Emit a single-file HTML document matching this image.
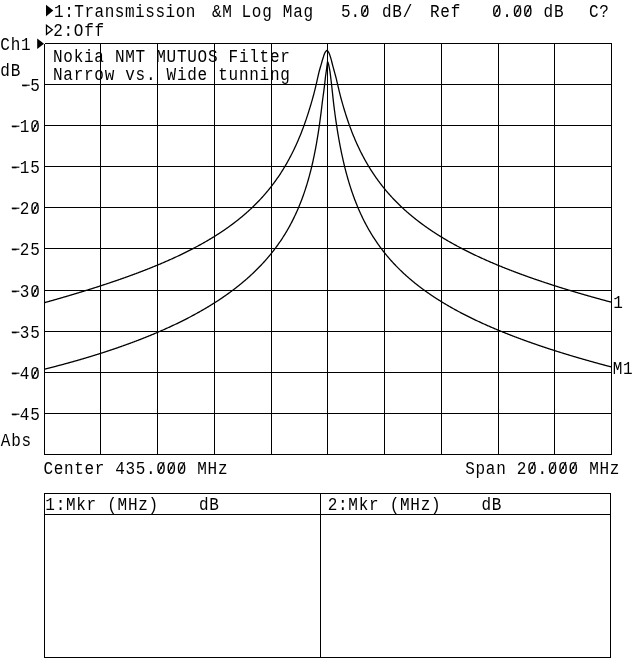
<!DOCTYPE html>
<html><head><meta charset="utf-8"><title>Transmission Log Mag</title>
<style>html,body{margin:0;padding:0;background:#fff}svg{display:block}</style></head>
<body>
<svg width="640" height="659" viewBox="0 0 640 659">
<rect width="640" height="659" fill="#fff"/>
<g stroke="#000" stroke-width="1" fill="none" shape-rendering="crispEdges">
<line x1="44.50" y1="43.5" x2="44.50" y2="454.5"/>
<line x1="100.50" y1="43.5" x2="100.50" y2="454.5"/>
<line x1="157.50" y1="43.5" x2="157.50" y2="454.5"/>
<line x1="214.50" y1="43.5" x2="214.50" y2="454.5"/>
<line x1="271.50" y1="43.5" x2="271.50" y2="454.5"/>
<line x1="327.50" y1="43.5" x2="327.50" y2="454.5"/>
<line x1="384.50" y1="43.5" x2="384.50" y2="454.5"/>
<line x1="441.50" y1="43.5" x2="441.50" y2="454.5"/>
<line x1="498.50" y1="43.5" x2="498.50" y2="454.5"/>
<line x1="554.50" y1="43.5" x2="554.50" y2="454.5"/>
<line x1="611.50" y1="43.5" x2="611.50" y2="454.5"/>
<line x1="44.5" y1="43.50" x2="611.5" y2="43.50"/>
<line x1="44.5" y1="84.50" x2="611.5" y2="84.50"/>
<line x1="44.5" y1="125.50" x2="611.5" y2="125.50"/>
<line x1="44.5" y1="166.50" x2="611.5" y2="166.50"/>
<line x1="44.5" y1="207.50" x2="611.5" y2="207.50"/>
<line x1="44.5" y1="248.50" x2="611.5" y2="248.50"/>
<line x1="44.5" y1="290.50" x2="611.5" y2="290.50"/>
<line x1="44.5" y1="331.50" x2="611.5" y2="331.50"/>
<line x1="44.5" y1="372.50" x2="611.5" y2="372.50"/>
<line x1="44.5" y1="413.50" x2="611.5" y2="413.50"/>
<line x1="44.5" y1="454.50" x2="611.5" y2="454.50"/>
<rect x="44.5" y="493.5" width="566" height="164"/>
<line x1="44.5" y1="514.5" x2="610.5" y2="514.5"/>
<line x1="320.5" y1="493.5" x2="320.5" y2="657.5"/>
</g>
<g stroke="#000" stroke-width="1.3" fill="none" stroke-linejoin="round">
<path d="M44.50,302.64 L45.00,302.50 L45.50,302.36 L46.00,302.22 L46.50,302.08 L47.00,301.94 L47.50,301.80 L48.00,301.66 L48.50,301.53 L49.00,301.39 L49.50,301.25 L50.00,301.11 L50.50,300.96 L51.00,300.82 L51.50,300.68 L52.00,300.54 L52.50,300.40 L53.00,300.26 L53.50,300.12 L54.00,299.98 L54.50,299.83 L55.00,299.69 L55.50,299.55 L56.00,299.41 L56.50,299.26 L57.00,299.12 L57.50,298.98 L58.00,298.83 L58.50,298.69 L59.00,298.55 L59.50,298.40 L60.00,298.26 L60.50,298.11 L61.00,297.97 L61.50,297.82 L62.00,297.68 L62.50,297.53 L63.00,297.39 L63.50,297.24 L64.00,297.10 L64.50,296.95 L65.00,296.80 L65.50,296.66 L66.00,296.51 L66.50,296.36 L67.00,296.22 L67.50,296.07 L68.00,295.92 L68.50,295.77 L69.00,295.63 L69.50,295.48 L70.00,295.33 L70.50,295.18 L71.00,295.03 L71.50,294.88 L72.00,294.73 L72.50,294.59 L73.00,294.44 L73.50,294.29 L74.00,294.14 L74.50,293.99 L75.00,293.84 L75.50,293.69 L76.00,293.54 L76.50,293.39 L77.00,293.23 L77.50,293.08 L78.00,292.93 L78.50,292.78 L79.00,292.63 L79.50,292.48 L80.00,292.33 L80.50,292.17 L81.00,292.02 L81.50,291.87 L82.00,291.72 L82.50,291.56 L83.00,291.41 L83.50,291.26 L84.00,291.10 L84.50,290.95 L85.00,290.79 L85.50,290.64 L86.00,290.48 L86.50,290.33 L87.00,290.17 L87.50,290.02 L88.00,289.86 L88.50,289.71 L89.00,289.55 L89.50,289.40 L90.00,289.24 L90.50,289.08 L91.00,288.92 L91.50,288.77 L92.00,288.61 L92.50,288.45 L93.00,288.29 L93.50,288.13 L94.00,287.98 L94.50,287.82 L95.00,287.66 L95.50,287.50 L96.00,287.34 L96.50,287.18 L97.00,287.02 L97.50,286.86 L98.00,286.70 L98.50,286.53 L99.00,286.37 L99.50,286.21 L100.00,286.05 L100.50,285.89 L101.00,285.72 L101.50,285.56 L102.00,285.40 L102.50,285.23 L103.00,285.07 L103.50,284.91 L104.00,284.74 L104.50,284.58 L105.00,284.41 L105.50,284.25 L106.00,284.08 L106.50,283.92 L107.00,283.75 L107.50,283.58 L108.00,283.42 L108.50,283.25 L109.00,283.08 L109.50,282.92 L110.00,282.75 L110.50,282.58 L111.00,282.41 L111.50,282.24 L112.00,282.07 L112.50,281.91 L113.00,281.74 L113.50,281.57 L114.00,281.40 L114.50,281.22 L115.00,281.05 L115.50,280.88 L116.00,280.71 L116.50,280.54 L117.00,280.37 L117.50,280.19 L118.00,280.02 L118.50,279.85 L119.00,279.67 L119.50,279.50 L120.00,279.32 L120.50,279.15 L121.00,278.97 L121.50,278.80 L122.00,278.62 L122.50,278.45 L123.00,278.27 L123.50,278.09 L124.00,277.92 L124.50,277.74 L125.00,277.56 L125.50,277.38 L126.00,277.20 L126.50,277.02 L127.00,276.85 L127.50,276.67 L128.00,276.49 L128.50,276.30 L129.00,276.12 L129.50,275.94 L130.00,275.76 L130.50,275.58 L131.00,275.40 L131.50,275.21 L132.00,275.03 L132.50,274.85 L133.00,274.66 L133.50,274.48 L134.00,274.29 L134.50,274.11 L135.00,273.92 L135.50,273.74 L136.00,273.55 L136.50,273.36 L137.00,273.17 L137.50,272.99 L138.00,272.80 L138.50,272.61 L139.00,272.42 L139.50,272.23 L140.00,272.04 L140.50,271.85 L141.00,271.66 L141.50,271.47 L142.00,271.28 L142.50,271.08 L143.00,270.89 L143.50,270.70 L144.00,270.50 L144.50,270.31 L145.00,270.11 L145.50,269.92 L146.00,269.72 L146.50,269.53 L147.00,269.33 L147.50,269.13 L148.00,268.94 L148.50,268.74 L149.00,268.54 L149.50,268.34 L150.00,268.14 L150.50,267.94 L151.00,267.74 L151.50,267.54 L152.00,267.34 L152.50,267.13 L153.00,266.93 L153.50,266.73 L154.00,266.52 L154.50,266.32 L155.00,266.12 L155.50,265.91 L156.00,265.70 L156.50,265.50 L157.00,265.29 L157.50,265.08 L158.00,264.88 L158.50,264.67 L159.00,264.46 L159.50,264.25 L160.00,264.04 L160.50,263.83 L161.00,263.61 L161.50,263.40 L162.00,263.19 L162.50,262.98 L163.00,262.76 L163.50,262.55 L164.00,262.33 L164.50,262.12 L165.00,261.90 L165.50,261.68 L166.00,261.46 L166.50,261.25 L167.00,261.03 L167.50,260.81 L168.00,260.59 L168.50,260.37 L169.00,260.14 L169.50,259.92 L170.00,259.70 L170.50,259.47 L171.00,259.25 L171.50,259.03 L172.00,258.80 L172.50,258.57 L173.00,258.35 L173.50,258.12 L174.00,257.89 L174.50,257.66 L175.00,257.43 L175.50,257.20 L176.00,256.97 L176.50,256.74 L177.00,256.50 L177.50,256.27 L178.00,256.03 L178.50,255.80 L179.00,255.56 L179.50,255.33 L180.00,255.09 L180.50,254.85 L181.00,254.61 L181.50,254.37 L182.00,254.13 L182.50,253.89 L183.00,253.65 L183.50,253.40 L184.00,253.16 L184.50,252.92 L185.00,252.67 L185.50,252.42 L186.00,252.18 L186.50,251.93 L187.00,251.68 L187.50,251.43 L188.00,251.18 L188.50,250.93 L189.00,250.67 L189.50,250.42 L190.00,250.16 L190.50,249.91 L191.00,249.65 L191.50,249.40 L192.00,249.14 L192.50,248.88 L193.00,248.62 L193.50,248.36 L194.00,248.09 L194.50,247.83 L195.00,247.57 L195.50,247.30 L196.00,247.04 L196.50,246.77 L197.00,246.50 L197.50,246.23 L198.00,245.96 L198.50,245.69 L199.00,245.42 L199.50,245.14 L200.00,244.87 L200.50,244.59 L201.00,244.32 L201.50,244.04 L202.00,243.76 L202.50,243.48 L203.00,243.20 L203.50,242.92 L204.00,242.63 L204.50,242.35 L205.00,242.06 L205.50,241.77 L206.00,241.49 L206.50,241.20 L207.00,240.91 L207.50,240.61 L208.00,240.32 L208.50,240.03 L209.00,239.73 L209.50,239.43 L210.00,239.13 L210.50,238.83 L211.00,238.53 L211.50,238.23 L212.00,237.93 L212.50,237.62 L213.00,237.32 L213.50,237.01 L214.00,236.70 L214.50,236.39 L215.00,236.08 L215.50,235.76 L216.00,235.45 L216.50,235.13 L217.00,234.81 L217.50,234.49 L218.00,234.17 L218.50,233.85 L219.00,233.52 L219.50,233.20 L220.00,232.87 L220.50,232.54 L221.00,232.21 L221.50,231.88 L222.00,231.55 L222.50,231.21 L223.00,230.87 L223.50,230.54 L224.00,230.20 L224.50,229.85 L225.00,229.51 L225.50,229.16 L226.00,228.82 L226.50,228.47 L227.00,228.12 L227.50,227.76 L228.00,227.41 L228.50,227.05 L229.00,226.69 L229.50,226.33 L230.00,225.97 L230.50,225.60 L231.00,225.24 L231.50,224.87 L232.00,224.50 L232.50,224.13 L233.00,223.75 L233.50,223.38 L234.00,223.00 L234.50,222.62 L235.00,222.24 L235.50,221.85 L236.00,221.46 L236.50,221.07 L237.00,220.68 L237.50,220.29 L238.00,219.89 L238.50,219.49 L239.00,219.09 L239.50,218.69 L240.00,218.28 L240.50,217.87 L241.00,217.46 L241.50,217.05 L242.00,216.63 L242.50,216.21 L243.00,215.79 L243.50,215.37 L244.00,214.94 L244.50,214.51 L245.00,214.08 L245.50,213.65 L246.00,213.21 L246.50,212.77 L247.00,212.33 L247.50,211.88 L248.00,211.43 L248.50,210.98 L249.00,210.52 L249.50,210.07 L250.00,209.60 L250.50,209.14 L251.00,208.67 L251.50,208.20 L252.00,207.73 L252.50,207.25 L253.00,206.77 L253.50,206.29 L254.00,205.80 L254.50,205.31 L255.00,204.82 L255.50,204.32 L256.00,203.82 L256.50,203.31 L257.00,202.80 L257.50,202.29 L258.00,201.77 L258.50,201.25 L259.00,200.73 L259.50,200.20 L260.00,199.67 L260.50,199.13 L261.00,198.59 L261.50,198.05 L262.00,197.50 L262.50,196.95 L263.00,196.39 L263.50,195.83 L264.00,195.26 L264.50,194.69 L265.00,194.12 L265.50,193.53 L266.00,192.95 L266.50,192.36 L267.00,191.76 L267.50,191.16 L268.00,190.56 L268.50,189.95 L269.00,189.34 L269.50,188.72 L270.00,188.09 L270.50,187.46 L271.00,186.82 L271.50,186.18 L272.00,185.53 L272.50,184.87 L273.00,184.21 L273.50,183.54 L274.00,182.87 L274.50,182.19 L275.00,181.51 L275.50,180.82 L276.00,180.12 L276.50,179.41 L277.00,178.70 L277.50,177.98 L278.00,177.26 L278.50,176.52 L279.00,175.78 L279.50,175.04 L280.00,174.28 L280.50,173.52 L281.00,172.75 L281.50,171.97 L282.00,171.18 L282.50,170.39 L283.00,169.58 L283.50,168.77 L284.00,167.95 L284.50,167.12 L285.00,166.28 L285.50,165.44 L286.00,164.58 L286.50,163.71 L287.00,162.84 L287.50,161.95 L288.00,161.05 L288.50,160.15 L289.00,159.23 L289.50,158.30 L290.00,157.36 L290.50,156.41 L291.00,155.45 L291.50,154.48 L292.00,153.49 L292.50,152.49 L293.00,151.48 L293.50,150.46 L294.00,149.43 L294.50,148.38 L295.00,147.32 L295.50,146.24 L296.00,145.15 L296.50,144.04 L297.00,142.92 L297.50,141.79 L298.00,140.64 L298.50,139.48 L299.00,138.29 L299.50,137.10 L300.00,135.88 L300.50,134.65 L301.00,133.40 L301.50,132.14 L302.00,130.85 L302.50,129.54 L303.00,128.22 L303.50,126.88 L304.00,125.52 L304.50,124.13 L305.00,122.73 L305.50,121.30 L306.00,119.85 L306.50,118.38 L307.00,116.89 L307.50,115.37 L308.00,113.83 L308.50,112.27 L309.00,110.68 L309.50,109.06 L310.00,107.42 L310.50,105.75 L311.00,104.06 L311.50,102.34 L312.00,100.59 L312.50,98.82 L313.00,97.04 L313.50,95.21 L314.00,93.32 L314.50,91.36 L315.00,89.36 L315.50,87.30 L316.00,85.20 L316.50,83.07 L317.00,80.83 L317.50,78.57 L318.00,76.39 L318.50,74.24 L319.00,72.17 L319.50,70.25 L320.00,68.48 L320.50,66.79 L321.00,65.10 L321.50,63.33 L322.00,61.53 L322.50,59.79 L323.00,58.19 L323.50,56.61 L324.00,55.06 L324.50,53.68 L325.00,52.58 L325.50,51.82 L326.00,51.17 L326.50,50.68 L327.00,50.40 L327.00,50.40 L327.00,50.40 L327.50,50.78 L328.00,51.37 L328.50,52.09 L329.00,53.00 L329.50,54.21 L330.00,55.64 L330.50,57.21 L331.00,58.83 L331.50,60.70 L332.00,62.75 L332.50,64.75 L333.00,66.62 L333.50,68.45 L334.00,70.27 L334.50,72.09 L335.00,73.89 L335.50,75.72 L336.00,77.64 L336.50,79.69 L337.00,81.81 L337.50,83.92 L338.00,86.05 L338.50,88.21 L339.00,90.35 L339.50,92.45 L340.00,94.46 L340.50,96.38 L341.00,98.23 L341.50,100.06 L342.00,101.87 L342.50,103.65 L343.00,105.39 L343.50,107.10 L344.00,108.79 L344.50,110.44 L345.00,112.06 L345.50,113.66 L346.00,115.23 L346.50,116.77 L347.00,118.29 L347.50,119.78 L348.00,121.24 L348.50,122.69 L349.00,124.11 L349.50,125.50 L350.00,126.87 L350.50,128.22 L351.00,129.55 L351.50,130.86 L352.00,132.15 L352.50,133.42 L353.00,134.67 L353.50,135.90 L354.00,137.12 L354.50,138.31 L355.00,139.49 L355.50,140.65 L356.00,141.80 L356.50,142.93 L357.00,144.04 L357.50,145.14 L358.00,146.22 L358.50,147.29 L359.00,148.34 L359.50,149.38 L360.00,150.41 L360.50,151.42 L361.00,152.42 L361.50,153.41 L362.00,154.38 L362.50,155.35 L363.00,156.30 L363.50,157.24 L364.00,158.17 L364.50,159.08 L365.00,159.99 L365.50,160.88 L366.00,161.77 L366.50,162.64 L367.00,163.51 L367.50,164.36 L368.00,165.21 L368.50,166.04 L369.00,166.87 L369.50,167.69 L370.00,168.50 L370.50,169.30 L371.00,170.09 L371.50,170.87 L372.00,171.65 L372.50,172.42 L373.00,173.18 L373.50,173.93 L374.00,174.67 L374.50,175.41 L375.00,176.14 L375.50,176.86 L376.00,177.57 L376.50,178.28 L377.00,178.98 L377.50,179.68 L378.00,180.37 L378.50,181.05 L379.00,181.72 L379.50,182.39 L380.00,183.06 L380.50,183.71 L381.00,184.36 L381.50,185.01 L382.00,185.65 L382.50,186.28 L383.00,186.91 L383.50,187.53 L384.00,188.15 L384.50,188.76 L385.00,189.37 L385.50,189.97 L386.00,190.57 L386.50,191.16 L387.00,191.75 L387.50,192.33 L388.00,192.91 L388.50,193.48 L389.00,194.05 L389.50,194.61 L390.00,195.17 L390.50,195.72 L391.00,196.28 L391.50,196.82 L392.00,197.37 L392.50,197.90 L393.00,198.44 L393.50,198.97 L394.00,199.49 L394.50,200.02 L395.00,200.53 L395.50,201.05 L396.00,201.56 L396.50,202.07 L397.00,202.57 L397.50,203.07 L398.00,203.56 L398.50,204.06 L399.00,204.55 L399.50,205.03 L400.00,205.52 L400.50,206.00 L401.00,206.47 L401.50,206.95 L402.00,207.42 L402.50,207.88 L403.00,208.35 L403.50,208.81 L404.00,209.26 L404.50,209.72 L405.00,210.17 L405.50,210.62 L406.00,211.06 L406.50,211.51 L407.00,211.95 L407.50,212.38 L408.00,212.82 L408.50,213.25 L409.00,213.68 L409.50,214.11 L410.00,214.53 L410.50,214.95 L411.00,215.37 L411.50,215.79 L412.00,216.20 L412.50,216.61 L413.00,217.02 L413.50,217.43 L414.00,217.83 L414.50,218.23 L415.00,218.63 L415.50,219.03 L416.00,219.42 L416.50,219.82 L417.00,220.21 L417.50,220.60 L418.00,220.98 L418.50,221.37 L419.00,221.75 L419.50,222.13 L420.00,222.51 L420.50,222.88 L421.00,223.26 L421.50,223.63 L422.00,224.00 L422.50,224.37 L423.00,224.73 L423.50,225.10 L424.00,225.46 L424.50,225.82 L425.00,226.18 L425.50,226.53 L426.00,226.89 L426.50,227.24 L427.00,227.59 L427.50,227.94 L428.00,228.29 L428.50,228.64 L429.00,228.98 L429.50,229.32 L430.00,229.66 L430.50,230.00 L431.00,230.34 L431.50,230.68 L432.00,231.01 L432.50,231.34 L433.00,231.67 L433.50,232.00 L434.00,232.33 L434.50,232.66 L435.00,232.98 L435.50,233.30 L436.00,233.63 L436.50,233.95 L437.00,234.27 L437.50,234.58 L438.00,234.90 L438.50,235.21 L439.00,235.53 L439.50,235.84 L440.00,236.15 L440.50,236.46 L441.00,236.77 L441.50,237.07 L442.00,237.38 L442.50,237.68 L443.00,237.98 L443.50,238.29 L444.00,238.59 L444.50,238.88 L445.00,239.18 L445.50,239.48 L446.00,239.77 L446.50,240.07 L447.00,240.36 L447.50,240.65 L448.00,240.94 L448.50,241.23 L449.00,241.51 L449.50,241.80 L450.00,242.09 L450.50,242.37 L451.00,242.65 L451.50,242.93 L452.00,243.21 L452.50,243.49 L453.00,243.77 L453.50,244.05 L454.00,244.33 L454.50,244.60 L455.00,244.88 L455.50,245.15 L456.00,245.42 L456.50,245.69 L457.00,245.96 L457.50,246.23 L458.00,246.50 L458.50,246.77 L459.00,247.03 L459.50,247.30 L460.00,247.56 L460.50,247.82 L461.00,248.09 L461.50,248.35 L462.00,248.61 L462.50,248.87 L463.00,249.12 L463.50,249.38 L464.00,249.64 L464.50,249.89 L465.00,250.15 L465.50,250.40 L466.00,250.65 L466.50,250.91 L467.00,251.16 L467.50,251.41 L468.00,251.66 L468.50,251.90 L469.00,252.15 L469.50,252.40 L470.00,252.64 L470.50,252.89 L471.00,253.13 L471.50,253.38 L472.00,253.62 L472.50,253.86 L473.00,254.10 L473.50,254.34 L474.00,254.58 L474.50,254.82 L475.00,255.06 L475.50,255.30 L476.00,255.53 L476.50,255.77 L477.00,256.00 L477.50,256.23 L478.00,256.47 L478.50,256.70 L479.00,256.93 L479.50,257.16 L480.00,257.39 L480.50,257.62 L481.00,257.85 L481.50,258.08 L482.00,258.31 L482.50,258.53 L483.00,258.76 L483.50,258.98 L484.00,259.21 L484.50,259.43 L485.00,259.66 L485.50,259.88 L486.00,260.10 L486.50,260.32 L487.00,260.54 L487.50,260.76 L488.00,260.98 L488.50,261.20 L489.00,261.42 L489.50,261.64 L490.00,261.85 L490.50,262.07 L491.00,262.28 L491.50,262.50 L492.00,262.71 L492.50,262.93 L493.00,263.14 L493.50,263.35 L494.00,263.56 L494.50,263.78 L495.00,263.99 L495.50,264.20 L496.00,264.41 L496.50,264.61 L497.00,264.82 L497.50,265.03 L498.00,265.24 L498.50,265.44 L499.00,265.65 L499.50,265.85 L500.00,266.06 L500.50,266.26 L501.00,266.47 L501.50,266.67 L502.00,266.87 L502.50,267.08 L503.00,267.28 L503.50,267.48 L504.00,267.68 L504.50,267.88 L505.00,268.08 L505.50,268.28 L506.00,268.48 L506.50,268.67 L507.00,268.87 L507.50,269.07 L508.00,269.26 L508.50,269.46 L509.00,269.66 L509.50,269.85 L510.00,270.05 L510.50,270.24 L511.00,270.43 L511.50,270.63 L512.00,270.82 L512.50,271.01 L513.00,271.20 L513.50,271.39 L514.00,271.58 L514.50,271.77 L515.00,271.96 L515.50,272.15 L516.00,272.34 L516.50,272.53 L517.00,272.72 L517.50,272.90 L518.00,273.09 L518.50,273.28 L519.00,273.46 L519.50,273.65 L520.00,273.83 L520.50,274.02 L521.00,274.20 L521.50,274.39 L522.00,274.57 L522.50,274.75 L523.00,274.94 L523.50,275.12 L524.00,275.30 L524.50,275.48 L525.00,275.66 L525.50,275.84 L526.00,276.02 L526.50,276.20 L527.00,276.38 L527.50,276.56 L528.00,276.74 L528.50,276.92 L529.00,277.09 L529.50,277.27 L530.00,277.45 L530.50,277.62 L531.00,277.80 L531.50,277.98 L532.00,278.15 L532.50,278.33 L533.00,278.50 L533.50,278.68 L534.00,278.85 L534.50,279.02 L535.00,279.20 L535.50,279.37 L536.00,279.54 L536.50,279.71 L537.00,279.88 L537.50,280.06 L538.00,280.23 L538.50,280.40 L539.00,280.57 L539.50,280.74 L540.00,280.91 L540.50,281.08 L541.00,281.24 L541.50,281.41 L542.00,281.58 L542.50,281.75 L543.00,281.92 L543.50,282.08 L544.00,282.25 L544.50,282.42 L545.00,282.58 L545.50,282.75 L546.00,282.91 L546.50,283.08 L547.00,283.24 L547.50,283.41 L548.00,283.57 L548.50,283.73 L549.00,283.90 L549.50,284.06 L550.00,284.22 L550.50,284.39 L551.00,284.55 L551.50,284.71 L552.00,284.87 L552.50,285.03 L553.00,285.19 L553.50,285.35 L554.00,285.51 L554.50,285.67 L555.00,285.83 L555.50,285.99 L556.00,286.15 L556.50,286.31 L557.00,286.47 L557.50,286.63 L558.00,286.79 L558.50,286.94 L559.00,287.10 L559.50,287.26 L560.00,287.41 L560.50,287.57 L561.00,287.73 L561.50,287.88 L562.00,288.04 L562.50,288.19 L563.00,288.35 L563.50,288.50 L564.00,288.66 L564.50,288.81 L565.00,288.97 L565.50,289.12 L566.00,289.27 L566.50,289.43 L567.00,289.58 L567.50,289.73 L568.00,289.88 L568.50,290.03 L569.00,290.19 L569.50,290.34 L570.00,290.49 L570.50,290.64 L571.00,290.79 L571.50,290.94 L572.00,291.09 L572.50,291.24 L573.00,291.39 L573.50,291.54 L574.00,291.69 L574.50,291.83 L575.00,291.98 L575.50,292.13 L576.00,292.28 L576.50,292.43 L577.00,292.57 L577.50,292.72 L578.00,292.87 L578.50,293.02 L579.00,293.16 L579.50,293.31 L580.00,293.45 L580.50,293.60 L581.00,293.75 L581.50,293.89 L582.00,294.04 L582.50,294.18 L583.00,294.33 L583.50,294.47 L584.00,294.61 L584.50,294.76 L585.00,294.90 L585.50,295.05 L586.00,295.19 L586.50,295.33 L587.00,295.48 L587.50,295.62 L588.00,295.76 L588.50,295.91 L589.00,296.05 L589.50,296.19 L590.00,296.33 L590.50,296.47 L591.00,296.62 L591.50,296.76 L592.00,296.90 L592.50,297.04 L593.00,297.18 L593.50,297.32 L594.00,297.46 L594.50,297.60 L595.00,297.74 L595.50,297.88 L596.00,298.02 L596.50,298.16 L597.00,298.30 L597.50,298.44 L598.00,298.58 L598.50,298.72 L599.00,298.85 L599.50,298.99 L600.00,299.13 L600.50,299.27 L601.00,299.40 L601.50,299.54 L602.00,299.68 L602.50,299.81 L603.00,299.95 L603.50,300.08 L604.00,300.22 L604.50,300.35 L605.00,300.49 L605.50,300.62 L606.00,300.76 L606.50,300.89 L607.00,301.03 L607.50,301.16 L608.00,301.30 L608.50,301.43 L609.00,301.56 L609.50,301.70 L610.00,301.83 L610.50,301.96 L611.00,302.09 L611.50,302.23"/>
<path d="M44.50,369.23 L45.00,369.11 L45.50,368.98 L46.00,368.86 L46.50,368.73 L47.00,368.61 L47.50,368.48 L48.00,368.35 L48.50,368.22 L49.00,368.09 L49.50,367.96 L50.00,367.83 L50.50,367.70 L51.00,367.57 L51.50,367.44 L52.00,367.31 L52.50,367.18 L53.00,367.05 L53.50,366.91 L54.00,366.78 L54.50,366.65 L55.00,366.52 L55.50,366.39 L56.00,366.26 L56.50,366.13 L57.00,365.99 L57.50,365.86 L58.00,365.73 L58.50,365.60 L59.00,365.46 L59.50,365.33 L60.00,365.20 L60.50,365.06 L61.00,364.93 L61.50,364.79 L62.00,364.66 L62.50,364.53 L63.00,364.39 L63.50,364.26 L64.00,364.12 L64.50,363.99 L65.00,363.85 L65.50,363.71 L66.00,363.58 L66.50,363.44 L67.00,363.30 L67.50,363.17 L68.00,363.03 L68.50,362.89 L69.00,362.75 L69.50,362.62 L70.00,362.48 L70.50,362.34 L71.00,362.20 L71.50,362.06 L72.00,361.92 L72.50,361.78 L73.00,361.64 L73.50,361.50 L74.00,361.36 L74.50,361.22 L75.00,361.08 L75.50,360.93 L76.00,360.79 L76.50,360.65 L77.00,360.51 L77.50,360.36 L78.00,360.22 L78.50,360.08 L79.00,359.93 L79.50,359.79 L80.00,359.64 L80.50,359.50 L81.00,359.35 L81.50,359.20 L82.00,359.06 L82.50,358.91 L83.00,358.76 L83.50,358.62 L84.00,358.47 L84.50,358.32 L85.00,358.17 L85.50,358.02 L86.00,357.87 L86.50,357.72 L87.00,357.57 L87.50,357.42 L88.00,357.27 L88.50,357.12 L89.00,356.97 L89.50,356.82 L90.00,356.67 L90.50,356.51 L91.00,356.36 L91.50,356.21 L92.00,356.06 L92.50,355.90 L93.00,355.75 L93.50,355.59 L94.00,355.44 L94.50,355.28 L95.00,355.13 L95.50,354.97 L96.00,354.82 L96.50,354.66 L97.00,354.50 L97.50,354.35 L98.00,354.19 L98.50,354.03 L99.00,353.87 L99.50,353.71 L100.00,353.56 L100.50,353.40 L101.00,353.24 L101.50,353.08 L102.00,352.92 L102.50,352.76 L103.00,352.60 L103.50,352.43 L104.00,352.27 L104.50,352.11 L105.00,351.95 L105.50,351.79 L106.00,351.62 L106.50,351.46 L107.00,351.29 L107.50,351.13 L108.00,350.97 L108.50,350.80 L109.00,350.63 L109.50,350.47 L110.00,350.30 L110.50,350.14 L111.00,349.97 L111.50,349.80 L112.00,349.63 L112.50,349.46 L113.00,349.29 L113.50,349.13 L114.00,348.96 L114.50,348.79 L115.00,348.61 L115.50,348.44 L116.00,348.27 L116.50,348.10 L117.00,347.93 L117.50,347.76 L118.00,347.58 L118.50,347.41 L119.00,347.23 L119.50,347.06 L120.00,346.89 L120.50,346.71 L121.00,346.53 L121.50,346.36 L122.00,346.18 L122.50,346.00 L123.00,345.83 L123.50,345.65 L124.00,345.47 L124.50,345.29 L125.00,345.11 L125.50,344.93 L126.00,344.75 L126.50,344.57 L127.00,344.39 L127.50,344.21 L128.00,344.03 L128.50,343.85 L129.00,343.67 L129.50,343.48 L130.00,343.30 L130.50,343.11 L131.00,342.93 L131.50,342.74 L132.00,342.56 L132.50,342.37 L133.00,342.19 L133.50,342.00 L134.00,341.81 L134.50,341.62 L135.00,341.43 L135.50,341.25 L136.00,341.06 L136.50,340.87 L137.00,340.68 L137.50,340.48 L138.00,340.29 L138.50,340.10 L139.00,339.91 L139.50,339.71 L140.00,339.52 L140.50,339.33 L141.00,339.13 L141.50,338.94 L142.00,338.74 L142.50,338.54 L143.00,338.35 L143.50,338.15 L144.00,337.95 L144.50,337.75 L145.00,337.55 L145.50,337.35 L146.00,337.15 L146.50,336.95 L147.00,336.75 L147.50,336.55 L148.00,336.35 L148.50,336.15 L149.00,335.94 L149.50,335.74 L150.00,335.53 L150.50,335.33 L151.00,335.12 L151.50,334.92 L152.00,334.71 L152.50,334.50 L153.00,334.30 L153.50,334.09 L154.00,333.88 L154.50,333.67 L155.00,333.46 L155.50,333.25 L156.00,333.03 L156.50,332.82 L157.00,332.61 L157.50,332.40 L158.00,332.18 L158.50,331.97 L159.00,331.75 L159.50,331.53 L160.00,331.32 L160.50,331.10 L161.00,330.88 L161.50,330.66 L162.00,330.44 L162.50,330.22 L163.00,330.00 L163.50,329.78 L164.00,329.56 L164.50,329.34 L165.00,329.11 L165.50,328.89 L166.00,328.67 L166.50,328.44 L167.00,328.21 L167.50,327.99 L168.00,327.76 L168.50,327.53 L169.00,327.30 L169.50,327.08 L170.00,326.85 L170.50,326.62 L171.00,326.38 L171.50,326.15 L172.00,325.92 L172.50,325.68 L173.00,325.45 L173.50,325.21 L174.00,324.98 L174.50,324.74 L175.00,324.50 L175.50,324.27 L176.00,324.03 L176.50,323.79 L177.00,323.55 L177.50,323.30 L178.00,323.06 L178.50,322.82 L179.00,322.57 L179.50,322.33 L180.00,322.08 L180.50,321.84 L181.00,321.59 L181.50,321.34 L182.00,321.09 L182.50,320.84 L183.00,320.59 L183.50,320.34 L184.00,320.09 L184.50,319.84 L185.00,319.59 L185.50,319.33 L186.00,319.08 L186.50,318.82 L187.00,318.56 L187.50,318.30 L188.00,318.05 L188.50,317.79 L189.00,317.52 L189.50,317.26 L190.00,317.00 L190.50,316.74 L191.00,316.47 L191.50,316.21 L192.00,315.94 L192.50,315.67 L193.00,315.40 L193.50,315.13 L194.00,314.86 L194.50,314.59 L195.00,314.32 L195.50,314.05 L196.00,313.77 L196.50,313.50 L197.00,313.22 L197.50,312.94 L198.00,312.67 L198.50,312.39 L199.00,312.11 L199.50,311.82 L200.00,311.54 L200.50,311.26 L201.00,310.97 L201.50,310.69 L202.00,310.40 L202.50,310.12 L203.00,309.83 L203.50,309.54 L204.00,309.24 L204.50,308.95 L205.00,308.66 L205.50,308.36 L206.00,308.07 L206.50,307.77 L207.00,307.47 L207.50,307.17 L208.00,306.87 L208.50,306.57 L209.00,306.27 L209.50,305.96 L210.00,305.66 L210.50,305.35 L211.00,305.04 L211.50,304.73 L212.00,304.42 L212.50,304.11 L213.00,303.80 L213.50,303.48 L214.00,303.17 L214.50,302.85 L215.00,302.53 L215.50,302.21 L216.00,301.89 L216.50,301.57 L217.00,301.25 L217.50,300.92 L218.00,300.59 L218.50,300.27 L219.00,299.94 L219.50,299.61 L220.00,299.27 L220.50,298.94 L221.00,298.60 L221.50,298.27 L222.00,297.93 L222.50,297.59 L223.00,297.24 L223.50,296.90 L224.00,296.56 L224.50,296.21 L225.00,295.86 L225.50,295.51 L226.00,295.16 L226.50,294.81 L227.00,294.46 L227.50,294.10 L228.00,293.74 L228.50,293.38 L229.00,293.02 L229.50,292.66 L230.00,292.29 L230.50,291.93 L231.00,291.56 L231.50,291.19 L232.00,290.81 L232.50,290.44 L233.00,290.06 L233.50,289.69 L234.00,289.31 L234.50,288.92 L235.00,288.54 L235.50,288.15 L236.00,287.77 L236.50,287.38 L237.00,286.99 L237.50,286.59 L238.00,286.20 L238.50,285.80 L239.00,285.40 L239.50,285.00 L240.00,284.59 L240.50,284.18 L241.00,283.78 L241.50,283.36 L242.00,282.95 L242.50,282.53 L243.00,282.12 L243.50,281.70 L244.00,281.27 L244.50,280.85 L245.00,280.42 L245.50,279.99 L246.00,279.56 L246.50,279.12 L247.00,278.68 L247.50,278.24 L248.00,277.80 L248.50,277.35 L249.00,276.91 L249.50,276.45 L250.00,276.00 L250.50,275.54 L251.00,275.08 L251.50,274.62 L252.00,274.15 L252.50,273.69 L253.00,273.21 L253.50,272.74 L254.00,272.26 L254.50,271.78 L255.00,271.30 L255.50,270.81 L256.00,270.32 L256.50,269.83 L257.00,269.33 L257.50,268.83 L258.00,268.33 L258.50,267.82 L259.00,267.31 L259.50,266.79 L260.00,266.27 L260.50,265.75 L261.00,265.23 L261.50,264.70 L262.00,264.16 L262.50,263.63 L263.00,263.08 L263.50,262.54 L264.00,261.99 L264.50,261.44 L265.00,260.88 L265.50,260.32 L266.00,259.75 L266.50,259.18 L267.00,258.60 L267.50,258.02 L268.00,257.44 L268.50,256.85 L269.00,256.25 L269.50,255.65 L270.00,255.05 L270.50,254.44 L271.00,253.83 L271.50,253.21 L272.00,252.58 L272.50,251.95 L273.00,251.31 L273.50,250.67 L274.00,250.02 L274.50,249.37 L275.00,248.71 L275.50,248.04 L276.00,247.37 L276.50,246.69 L277.00,246.01 L277.50,245.32 L278.00,244.62 L278.50,243.91 L279.00,243.20 L279.50,242.48 L280.00,241.75 L280.50,241.02 L281.00,240.28 L281.50,239.53 L282.00,238.77 L282.50,238.00 L283.00,237.23 L283.50,236.45 L284.00,235.66 L284.50,234.86 L285.00,234.05 L285.50,233.23 L286.00,232.40 L286.50,231.56 L287.00,230.71 L287.50,229.85 L288.00,228.98 L288.50,228.10 L289.00,227.21 L289.50,226.31 L290.00,225.40 L290.50,224.47 L291.00,223.53 L291.50,222.58 L292.00,221.62 L292.50,220.64 L293.00,219.65 L293.50,218.64 L294.00,217.62 L294.50,216.59 L295.00,215.54 L295.50,214.47 L296.00,213.39 L296.50,212.29 L297.00,211.17 L297.50,210.04 L298.00,208.89 L298.50,207.71 L299.00,206.52 L299.50,205.31 L300.00,204.08 L300.50,202.82 L301.00,201.54 L301.50,200.24 L302.00,198.92 L302.50,197.56 L303.00,196.19 L303.50,194.78 L304.00,193.35 L304.50,191.88 L305.00,190.39 L305.50,188.87 L306.00,187.31 L306.50,185.71 L307.00,184.09 L307.50,182.42 L308.00,180.71 L308.50,178.96 L309.00,177.17 L309.50,175.34 L310.00,173.45 L310.50,171.52 L311.00,169.54 L311.50,167.50 L312.00,165.40 L312.50,163.24 L313.00,161.02 L313.50,158.73 L314.00,156.36 L314.50,153.93 L315.00,151.41 L315.50,148.81 L316.00,146.12 L316.50,143.34 L317.00,140.45 L317.50,137.46 L318.00,134.36 L318.50,131.14 L319.00,127.79 L319.50,124.32 L320.00,120.70 L320.50,116.95 L321.00,113.05 L321.50,109.00 L322.00,104.78 L322.50,100.75 L323.00,97.01 L323.50,93.39 L324.00,89.68 L324.50,85.70 L325.00,81.09 L325.50,76.47 L326.00,73.06 L326.50,69.51 L327.00,65.62 L327.50,61.50 L327.50,61.50 L328.00,62.44 L328.50,64.09 L329.00,66.27 L329.50,68.81 L330.00,71.61 L330.50,75.57 L331.00,79.73 L331.50,84.00 L332.00,88.48 L332.50,93.14 L333.00,97.83 L333.50,102.38 L334.00,106.66 L334.50,110.53 L335.00,114.23 L335.50,117.83 L336.00,121.30 L336.50,124.66 L337.00,127.90 L337.50,131.04 L338.00,134.07 L338.50,137.00 L339.00,139.84 L339.50,142.59 L340.00,145.26 L340.50,147.84 L341.00,150.35 L341.50,152.79 L342.00,155.16 L342.50,157.46 L343.00,159.70 L343.50,161.88 L344.00,164.00 L344.50,166.07 L345.00,168.09 L345.50,170.06 L346.00,171.97 L346.50,173.85 L347.00,175.68 L347.50,177.47 L348.00,179.22 L348.50,180.93 L349.00,182.60 L349.50,184.24 L350.00,185.84 L350.50,187.41 L351.00,188.95 L351.50,190.46 L352.00,191.94 L352.50,193.39 L353.00,194.81 L353.50,196.20 L354.00,197.57 L354.50,198.92 L355.00,200.24 L355.50,201.54 L356.00,202.82 L356.50,204.07 L357.00,205.31 L357.50,206.52 L358.00,207.72 L358.50,208.89 L359.00,210.05 L359.50,211.18 L360.00,212.30 L360.50,213.41 L361.00,214.49 L361.50,215.57 L362.00,216.62 L362.50,217.66 L363.00,218.69 L363.50,219.70 L364.00,220.69 L364.50,221.68 L365.00,222.65 L365.50,223.60 L366.00,224.55 L366.50,225.48 L367.00,226.40 L367.50,227.31 L368.00,228.20 L368.50,229.09 L369.00,229.96 L369.50,230.82 L370.00,231.68 L370.50,232.52 L371.00,233.35 L371.50,234.18 L372.00,234.99 L372.50,235.79 L373.00,236.59 L373.50,237.38 L374.00,238.15 L374.50,238.92 L375.00,239.68 L375.50,240.44 L376.00,241.18 L376.50,241.92 L377.00,242.65 L377.50,243.37 L378.00,244.08 L378.50,244.79 L379.00,245.49 L379.50,246.18 L380.00,246.87 L380.50,247.54 L381.00,248.22 L381.50,248.88 L382.00,249.54 L382.50,250.20 L383.00,250.84 L383.50,251.48 L384.00,252.12 L384.50,252.75 L385.00,253.37 L385.50,253.99 L386.00,254.60 L386.50,255.21 L387.00,255.81 L387.50,256.41 L388.00,257.00 L388.50,257.59 L389.00,258.17 L389.50,258.75 L390.00,259.32 L390.50,259.89 L391.00,260.45 L391.50,261.01 L392.00,261.56 L392.50,262.11 L393.00,262.65 L393.50,263.20 L394.00,263.73 L394.50,264.26 L395.00,264.79 L395.50,265.32 L396.00,265.84 L396.50,266.35 L397.00,266.86 L397.50,267.37 L398.00,267.88 L398.50,268.38 L399.00,268.87 L399.50,269.37 L400.00,269.86 L400.50,270.35 L401.00,270.83 L401.50,271.31 L402.00,271.79 L402.50,272.26 L403.00,272.73 L403.50,273.20 L404.00,273.66 L404.50,274.12 L405.00,274.58 L405.50,275.03 L406.00,275.48 L406.50,275.93 L407.00,276.38 L407.50,276.82 L408.00,277.26 L408.50,277.70 L409.00,278.13 L409.50,278.56 L410.00,278.99 L410.50,279.42 L411.00,279.84 L411.50,280.26 L412.00,280.68 L412.50,281.10 L413.00,281.51 L413.50,281.92 L414.00,282.33 L414.50,282.74 L415.00,283.14 L415.50,283.54 L416.00,283.94 L416.50,284.34 L417.00,284.73 L417.50,285.12 L418.00,285.51 L418.50,285.90 L419.00,286.29 L419.50,286.67 L420.00,287.05 L420.50,287.43 L421.00,287.81 L421.50,288.18 L422.00,288.56 L422.50,288.93 L423.00,289.30 L423.50,289.67 L424.00,290.03 L424.50,290.39 L425.00,290.75 L425.50,291.11 L426.00,291.47 L426.50,291.83 L427.00,292.18 L427.50,292.53 L428.00,292.88 L428.50,293.23 L429.00,293.58 L429.50,293.92 L430.00,294.27 L430.50,294.61 L431.00,294.95 L431.50,295.29 L432.00,295.62 L432.50,295.96 L433.00,296.29 L433.50,296.63 L434.00,296.96 L434.50,297.28 L435.00,297.61 L435.50,297.94 L436.00,298.26 L436.50,298.58 L437.00,298.91 L437.50,299.22 L438.00,299.54 L438.50,299.86 L439.00,300.17 L439.50,300.49 L440.00,300.80 L440.50,301.11 L441.00,301.42 L441.50,301.73 L442.00,302.04 L442.50,302.34 L443.00,302.65 L443.50,302.95 L444.00,303.25 L444.50,303.55 L445.00,303.85 L445.50,304.15 L446.00,304.45 L446.50,304.74 L447.00,305.04 L447.50,305.33 L448.00,305.62 L448.50,305.91 L449.00,306.20 L449.50,306.49 L450.00,306.78 L450.50,307.06 L451.00,307.35 L451.50,307.63 L452.00,307.91 L452.50,308.20 L453.00,308.48 L453.50,308.75 L454.00,309.03 L454.50,309.31 L455.00,309.59 L455.50,309.86 L456.00,310.13 L456.50,310.41 L457.00,310.68 L457.50,310.95 L458.00,311.22 L458.50,311.49 L459.00,311.75 L459.50,312.02 L460.00,312.29 L460.50,312.55 L461.00,312.82 L461.50,313.08 L462.00,313.34 L462.50,313.60 L463.00,313.86 L463.50,314.12 L464.00,314.38 L464.50,314.63 L465.00,314.89 L465.50,315.15 L466.00,315.40 L466.50,315.65 L467.00,315.90 L467.50,316.16 L468.00,316.41 L468.50,316.66 L469.00,316.91 L469.50,317.15 L470.00,317.40 L470.50,317.65 L471.00,317.89 L471.50,318.14 L472.00,318.38 L472.50,318.63 L473.00,318.87 L473.50,319.11 L474.00,319.35 L474.50,319.59 L475.00,319.83 L475.50,320.07 L476.00,320.31 L476.50,320.54 L477.00,320.78 L477.50,321.01 L478.00,321.25 L478.50,321.48 L479.00,321.71 L479.50,321.95 L480.00,322.18 L480.50,322.41 L481.00,322.64 L481.50,322.87 L482.00,323.10 L482.50,323.32 L483.00,323.55 L483.50,323.78 L484.00,324.00 L484.50,324.23 L485.00,324.45 L485.50,324.68 L486.00,324.90 L486.50,325.12 L487.00,325.34 L487.50,325.57 L488.00,325.79 L488.50,326.01 L489.00,326.22 L489.50,326.44 L490.00,326.66 L490.50,326.88 L491.00,327.09 L491.50,327.31 L492.00,327.53 L492.50,327.74 L493.00,327.96 L493.50,328.17 L494.00,328.38 L494.50,328.59 L495.00,328.81 L495.50,329.02 L496.00,329.23 L496.50,329.44 L497.00,329.65 L497.50,329.85 L498.00,330.06 L498.50,330.27 L499.00,330.48 L499.50,330.68 L500.00,330.89 L500.50,331.09 L501.00,331.30 L501.50,331.50 L502.00,331.71 L502.50,331.91 L503.00,332.11 L503.50,332.31 L504.00,332.51 L504.50,332.72 L505.00,332.92 L505.50,333.12 L506.00,333.31 L506.50,333.51 L507.00,333.71 L507.50,333.91 L508.00,334.11 L508.50,334.30 L509.00,334.50 L509.50,334.70 L510.00,334.89 L510.50,335.09 L511.00,335.28 L511.50,335.47 L512.00,335.67 L512.50,335.86 L513.00,336.05 L513.50,336.24 L514.00,336.43 L514.50,336.63 L515.00,336.82 L515.50,337.01 L516.00,337.19 L516.50,337.38 L517.00,337.57 L517.50,337.76 L518.00,337.95 L518.50,338.13 L519.00,338.32 L519.50,338.51 L520.00,338.69 L520.50,338.88 L521.00,339.06 L521.50,339.25 L522.00,339.43 L522.50,339.61 L523.00,339.80 L523.50,339.98 L524.00,340.16 L524.50,340.34 L525.00,340.53 L525.50,340.71 L526.00,340.89 L526.50,341.07 L527.00,341.25 L527.50,341.43 L528.00,341.60 L528.50,341.78 L529.00,341.96 L529.50,342.14 L530.00,342.32 L530.50,342.49 L531.00,342.67 L531.50,342.84 L532.00,343.02 L532.50,343.20 L533.00,343.37 L533.50,343.55 L534.00,343.72 L534.50,343.89 L535.00,344.07 L535.50,344.24 L536.00,344.41 L536.50,344.58 L537.00,344.76 L537.50,344.93 L538.00,345.10 L538.50,345.27 L539.00,345.44 L539.50,345.61 L540.00,345.78 L540.50,345.95 L541.00,346.12 L541.50,346.29 L542.00,346.45 L542.50,346.62 L543.00,346.79 L543.50,346.96 L544.00,347.12 L544.50,347.29 L545.00,347.45 L545.50,347.62 L546.00,347.79 L546.50,347.95 L547.00,348.11 L547.50,348.28 L548.00,348.44 L548.50,348.61 L549.00,348.77 L549.50,348.93 L550.00,349.10 L550.50,349.26 L551.00,349.42 L551.50,349.58 L552.00,349.74 L552.50,349.90 L553.00,350.06 L553.50,350.22 L554.00,350.38 L554.50,350.54 L555.00,350.70 L555.50,350.86 L556.00,351.02 L556.50,351.18 L557.00,351.34 L557.50,351.50 L558.00,351.65 L558.50,351.81 L559.00,351.97 L559.50,352.13 L560.00,352.28 L560.50,352.44 L561.00,352.59 L561.50,352.75 L562.00,352.90 L562.50,353.06 L563.00,353.21 L563.50,353.37 L564.00,353.52 L564.50,353.68 L565.00,353.83 L565.50,353.98 L566.00,354.14 L566.50,354.29 L567.00,354.44 L567.50,354.59 L568.00,354.74 L568.50,354.90 L569.00,355.05 L569.50,355.20 L570.00,355.35 L570.50,355.50 L571.00,355.65 L571.50,355.80 L572.00,355.95 L572.50,356.10 L573.00,356.25 L573.50,356.39 L574.00,356.54 L574.50,356.69 L575.00,356.84 L575.50,356.98 L576.00,357.13 L576.50,357.28 L577.00,357.42 L577.50,357.57 L578.00,357.72 L578.50,357.86 L579.00,358.01 L579.50,358.15 L580.00,358.30 L580.50,358.44 L581.00,358.59 L581.50,358.73 L582.00,358.87 L582.50,359.02 L583.00,359.16 L583.50,359.31 L584.00,359.45 L584.50,359.59 L585.00,359.73 L585.50,359.88 L586.00,360.02 L586.50,360.16 L587.00,360.30 L587.50,360.44 L588.00,360.58 L588.50,360.72 L589.00,360.86 L589.50,361.01 L590.00,361.15 L590.50,361.29 L591.00,361.43 L591.50,361.57 L592.00,361.71 L592.50,361.84 L593.00,361.98 L593.50,362.12 L594.00,362.26 L594.50,362.40 L595.00,362.54 L595.50,362.68 L596.00,362.82 L596.50,362.95 L597.00,363.09 L597.50,363.23 L598.00,363.37 L598.50,363.51 L599.00,363.64 L599.50,363.78 L600.00,363.92 L600.50,364.05 L601.00,364.19 L601.50,364.33 L602.00,364.46 L602.50,364.60 L603.00,364.74 L603.50,364.87 L604.00,365.00 L604.50,365.14 L605.00,365.27 L605.50,365.41 L606.00,365.54 L606.50,365.67 L607.00,365.81 L607.50,365.94 L608.00,366.07 L608.50,366.20 L609.00,366.33 L609.50,366.47 L610.00,366.60 L610.50,366.73 L611.00,366.86 L611.50,366.99"/>
</g>
<g font-family="'Liberation Mono', monospace" font-size="16" letter-spacing="0.73" fill="#000">
<text transform="translate(54.0,17.0) scale(1,1.17)" letter-spacing="0.54">1:Transmission</text>
<text transform="translate(212.0,17.0) scale(1,1.17)">&amp;M</text>
<text transform="translate(241.5,17.0) scale(1,1.17)">Log</text>
<text transform="translate(282.8,17.0) scale(1,1.17)">Mag</text>
<text transform="translate(341.0,17.0) scale(1,1.17)" letter-spacing="-0.1">5.0</text>
<text transform="translate(382.0,17.0) scale(1,1.17)">dB/</text>
<text transform="translate(430.0,17.0) scale(1,1.17)">Ref</text>
<text transform="translate(492.0,17.0) scale(1,1.17)">0.00</text>
<text transform="translate(543.6,17.0) scale(1,1.17)">dB</text>
<text transform="translate(589.0,17.0) scale(1,1.17)">C?</text>
<text transform="translate(53.2,36.4) scale(1,1.17)">2:Off</text>
<text transform="translate(0.3,50.4) scale(1,1.17)">Ch1</text>
<text transform="translate(0.3,75.7) scale(1,1.17)">dB</text>
<text transform="translate(53.0,61.6) scale(1,1.17)">Nokia NMT MUTUOS Filter</text>
<text transform="translate(53.0,79.8) scale(1,1.17)">Narrow vs. Wide tunning</text>
<text transform="translate(19.8,91.4) scale(1,1.17)">-5</text>
<text transform="translate(9.5,132.4) scale(1,1.17)">-10</text>
<text transform="translate(9.5,173.4) scale(1,1.17)">-15</text>
<text transform="translate(9.5,214.4) scale(1,1.17)">-20</text>
<text transform="translate(9.5,255.4) scale(1,1.17)">-25</text>
<text transform="translate(9.5,297.4) scale(1,1.17)">-30</text>
<text transform="translate(9.5,338.4) scale(1,1.17)">-35</text>
<text transform="translate(9.5,379.4) scale(1,1.17)">-40</text>
<text transform="translate(9.5,420.4) scale(1,1.17)">-45</text>
<text transform="translate(0.8,445.6) scale(1,1.17)">Abs</text>
<text transform="translate(43.5,473.7) scale(1,1.17)" letter-spacing="0.66">Center 435.000 MHz</text>
<text transform="translate(465.2,473.5) scale(1,1.17)">Span 20.000 MHz</text>
<text transform="translate(45.3,510.0) scale(1,1.17)">1:Mkr (MHz)</text>
<text transform="translate(199.0,510.0) scale(1,1.17)">dB</text>
<text transform="translate(327.7,510.0) scale(1,1.17)">2:Mkr (MHz)</text>
<text transform="translate(481.5,510.0) scale(1,1.17)">dB</text>
<text transform="translate(613.2,307.8) scale(1,1.17)">1</text>
<text transform="translate(612.7,373.6) scale(1,1.17)">M1</text>
</g>
<g stroke="#000" stroke-width="1.1" fill="none"><line x1="361.9" y1="16.0" x2="367.7" y2="5.6"/><line x1="493.9" y1="16.0" x2="499.7" y2="5.6"/><line x1="514.6" y1="16.0" x2="520.4" y2="5.6"/><line x1="524.9" y1="16.0" x2="530.7" y2="5.6"/><line x1="22.0" y1="85.2" x2="29.7" y2="85.2"/><line x1="11.7" y1="126.2" x2="19.4" y2="126.2"/><line x1="32.1" y1="131.4" x2="37.9" y2="121.0"/><line x1="11.7" y1="167.2" x2="19.4" y2="167.2"/><line x1="11.7" y1="208.2" x2="19.4" y2="208.2"/><line x1="32.1" y1="213.4" x2="37.9" y2="203.0"/><line x1="11.7" y1="249.2" x2="19.4" y2="249.2"/><line x1="11.7" y1="291.2" x2="19.4" y2="291.2"/><line x1="32.1" y1="296.4" x2="37.9" y2="286.0"/><line x1="11.7" y1="332.2" x2="19.4" y2="332.2"/><line x1="11.7" y1="373.2" x2="19.4" y2="373.2"/><line x1="32.1" y1="378.4" x2="37.9" y2="368.0"/><line x1="11.7" y1="414.2" x2="19.4" y2="414.2"/><line x1="158.3" y1="472.7" x2="164.1" y2="462.3"/><line x1="168.5" y1="472.7" x2="174.3" y2="462.3"/><line x1="178.8" y1="472.7" x2="184.6" y2="462.3"/><line x1="529.1" y1="472.5" x2="534.9" y2="462.1"/><line x1="549.7" y1="472.5" x2="555.5" y2="462.1"/><line x1="560.1" y1="472.5" x2="565.9" y2="462.1"/><line x1="570.4" y1="472.5" x2="576.2" y2="462.1"/></g>
<path d="M46,4.8 L53.3,10.6 L46,16.4 Z" fill="#000"/>
<path d="M46.5,25.3 L52.3,29.8 L46.5,34.3 Z" fill="none" stroke="#000" stroke-width="1.3"/>
<path d="M37.2,38.5 L44,43.8 L37.2,49 Z" fill="#000"/>
</svg>
</body></html>
